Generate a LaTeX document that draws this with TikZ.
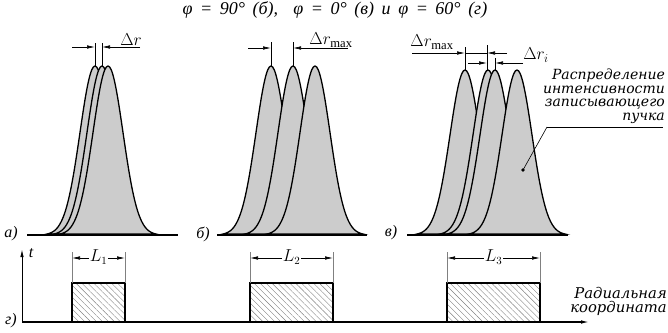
\documentclass[tikz,border=0pt]{standalone}
\usepackage{fontspec}
\setmainfont{Liberation Serif}
\newfontfamily\notefont{DejaVu Serif}
\usetikzlibrary{arrows.meta,patterns.meta}

% one beam profile: peak position, peak height
\newcommand{\beam}[2]{%
  \filldraw[beam] plot[domain=-48:48,samples=61,smooth] ({#1+\x},{235-#2*exp(-(\x)^2/450)}) -- cycle;}

\begin{document}
\begin{tikzpicture}[x=1pt,y=-1pt,
    beam/.style={fill=gray!40, draw=black, line width=1.3pt},
    base/.style={line width=1.8pt},
    ext/.style={line width=0.6pt},
    dim/.style={line width=0.6pt, -{Latex[length=8pt,width=3.5pt]}},
    dimboth/.style={line width=0.6pt, {Latex[length=8pt,width=3.5pt]}-{Latex[length=8pt,width=3.5pt]}},
    lbl/.style={font=\fontsize{16}{16}\selectfont\itshape, inner sep=0pt},
    mlbl/.style={font=\fontsize{18}{18}\selectfont, inner sep=0pt},
    note/.style={font=\notefont\fontsize{14}{13.4}\selectfont\itshape, inner sep=0pt, align=right},
    slot/.style={line width=1.6pt, pattern={Lines[angle=-45,distance=4.2pt,line width=0.4pt]}, pattern color=gray}]
  \useasboundingbox (0,0) rectangle (668,332);

  % title
  \node[lbl, font=\fontsize{18}{18}\selectfont\itshape] (title) at (335,10)
    {\spaceskip=0.42em\relax φ = 90° (б),\ \ φ = 0° (в) и φ = 60° (г)};

  % panel a
  \beam{95}{169}\beam{102}{169}\beam{108}{169}
  \draw[base] (27,235) -- (178,235);
  \node[lbl] (la) at (11,234) {а)};
  \coordinate (a1) at (95,66);
  \coordinate (a2) at (102,66);
  \draw[ext] (a1) -- (95,43);
  \draw[ext] (a2) -- (102,43);
  \draw[dim] (72,47) -- (95,47);
  \draw[dim] (140,47) -- (102,47);
  \node[mlbl] (dra) at (131,40) {$\Delta r$};

  % panel b
  \beam{271}{169}\beam{293}{169}\beam{315}{169}
  \draw[base] (217,235) -- (367,235);
  \node[lbl] (lb) at (203,234) {б)};
  \coordinate (b1) at (271,66);
  \coordinate (b2) at (293,66);
  \draw[ext] (b1) -- (271,42);
  \draw[ext] (b2) -- (293,42);
  \draw[dim] (248,48) -- (271,48);
  \draw[dim] (348,48) -- (293,48);
  \node[mlbl] (drb) at (331,40) {$\Delta r_{\max}$};

  % panel c
  \beam{465}{165}\beam{488}{165}\beam{495}{165}\beam{517}{165}
  \draw[base] (407,235) -- (568,235);
  \node[lbl] (lc) at (391,233) {в)};
  \coordinate (c1) at (465,70);
  \coordinate (c2) at (487,70);
  \coordinate (c3) at (495,70);
  \draw[ext] (c1) -- (465,47);
  \draw[ext] (c2) -- (487,45);
  \draw[ext] (c3) -- (495,58);
  \draw[dim] (412,53) -- (465,53);
  \draw[ext] (465,53) -- (487,53);
  \draw[dim] (507,53) -- (487,53);
  \draw[dim] (468,63) -- (487,63);
  \draw[dim] (523,63) -- (495,63);
  \node[mlbl] (drc) at (432,42) {$\Delta r_{\max}$};
  \node[mlbl] (dri) at (536,55) {$\Delta r_i$};

  % note with leader
  \node[note, anchor=north east] (txt) at (665,69) {Распределение\\интенсивности\\записывающего\\пучка};
  \coordinate (kn) at (547,127);
  \coordinate (dot) at (523,170);
  \draw[ext] (kn) -- (663,127);
  \draw[ext] (kn) -- (dot);
  \fill (dot) circle (1.8);

  % panel d: time slots
  \draw[base, line width=1.4pt, -{Latex[length=9pt,width=3.5pt]}] (22,322) -- (590,322);
  \draw[line width=1pt, -{Latex[length=8pt,width=3.5pt]}] (22,322) -- (22,249);
  \node[lbl] (t) at (31,253) {t};
  \node[lbl] (ld) at (11,321) {г)};
  \node[note, anchor=base east, font=\notefont\fontsize{14.8}{14}\selectfont\itshape] (rad) at (667,312) {Радиальная\\координата};
  \foreach \xa/\xb/\n in {72/125/1, 250/333/2, 447/540/3} {
    \draw[slot] (\xa,322) rectangle (\xb,283);
    \draw[ext, gray] (\xa,283) -- (\xa,252);
    \draw[ext, gray] (\xb,283) -- (\xb,252);
    \draw[dimboth] (\xa,258) -- (\xb,258);
    \node[mlbl, fill=white, inner sep=1pt, font=\fontsize{16}{16}\selectfont] (L\n) at ({(\xa+\xb)/2},257) {$L_\n$};
  }
\end{tikzpicture}
\end{document}
